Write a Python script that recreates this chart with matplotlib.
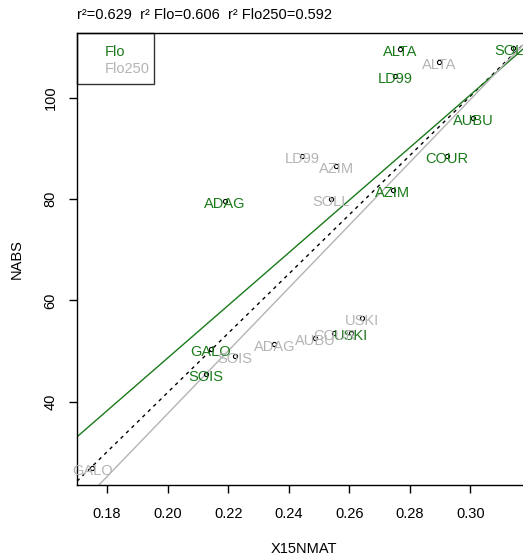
import numpy as np
import matplotlib
matplotlib.use('Agg')
import matplotlib.pyplot as plt
from matplotlib.patches import Rectangle

plt.rcParams['font.family'] = ['Liberation Sans', 'DejaVu Sans']

# sites measured with Flo
flo_sites = ['ALTA', 'SOLL', 'LD99', 'AUBU', 'COUR', 'AZIM', 'ADAG', 'GALO', 'SOIS', 'USKI']
flo_x = [0.2768, 0.3140, 0.2751, 0.3010, 0.2922, 0.2744, 0.2190, 0.2143, 0.2128, 0.2606]
flo_y = [109.7, 109.8, 104.2, 95.9, 88.4, 81.8, 79.6, 50.4, 45.4, 53.5]

# same sites with Flo250
flo250_sites = ['ALTA', 'LD99', 'AZIM', 'SOLL', 'USKI', 'COUR', 'AUBU', 'ADAG', 'SOIS', 'GALO']
flo250_x = [0.2897, 0.2444, 0.2557, 0.2540, 0.2642, 0.2551, 0.2487, 0.2353, 0.2223, 0.1752]
flo250_y = [107.0, 88.5, 86.6, 80.0, 56.6, 53.5, 52.5, 51.3, 49.1, 26.9]

title = 'r\u00b2=0.629  r\u00b2 Flo=0.606  r\u00b2 Flo250=0.592'
green = '#1a7a1a'
grey = '#b4b4b4'
fs = 10.5

fig = plt.figure(figsize=(5.23, 5.55), dpi=100)
# plot region runs past the right edge, like the original export
ax = fig.add_axes([77/523, 70/555, 454/523, 452/555])
ax.set_xlim(0.1701, 0.3200)
ax.set_ylim(23.56, 112.77)

# regression lines
all_x = np.array(flo_x + flo250_x)
all_y = np.array(flo_y + flo250_y)
b, a = np.polyfit(all_x, all_y, 1)
ax.axline((0.2, a + b*0.2), slope=b, color='black', lw=1, ls=(0, (2.5, 3)))
b, a = np.polyfit(flo_x, flo_y, 1)
ax.axline((0.2, a + b*0.2), slope=b, color=green, lw=1)
b, a = np.polyfit(flo250_x, flo250_y, 1)
ax.axline((0.2, a + b*0.2), slope=b, color=grey, lw=1)

ax.plot(all_x, all_y, 'o', mfc='none', mec='black', ms=3, mew=0.8)

for s, x, y in zip(flo_sites, flo_x, flo_y):
    ax.annotate(s, (x, y), xytext=(0, -3), textcoords='offset pixels',
                ha='center', va='center', color=green, fontsize=fs)
for s, x, y in zip(flo250_sites, flo250_x, flo250_y):
    ax.annotate(s, (x, y), xytext=(0, -3), textcoords='offset pixels',
                ha='center', va='center', color=grey, fontsize=fs)

# legend box
ax.add_patch(Rectangle((0, 1 - 51/452), 77/454, 51/452, transform=ax.transAxes,
                       fill=False, edgecolor='#333333', lw=1, clip_on=False))
ax.text(28/454, 1 - 19/452, 'Flo', transform=ax.transAxes, color=green,
        fontsize=fs, va='center')
ax.text(28/454, 1 - 36/452, 'Flo250', transform=ax.transAxes, color=grey,
        fontsize=fs, va='center')

ax.set_xticks([0.18, 0.20, 0.22, 0.24, 0.26, 0.28, 0.30])
ax.set_xticklabels(['0.18', '0.20', '0.22', '0.24', '0.26', '0.28', '0.30'])
ax.set_yticks([40, 60, 80, 100])
ax.set_yticklabels(['40', '60', '80', '100'], rotation=90, va='center')
ax.tick_params(direction='out', length=6, width=1, labelsize=fs)
ax.tick_params(axis='x', pad=10)
ax.tick_params(axis='y', pad=8)
for sp in ax.spines.values():
    sp.set_linewidth(1)

ax.set_xlabel('X15NMAT', fontsize=fs, labelpad=15)
ax.set_ylabel('NABS', fontsize=fs, labelpad=14)
fig.text(77/523, 1 - 15/555, title, fontsize=fs, va='center', ha='left')

fig.savefig('out.png', dpi=100)
